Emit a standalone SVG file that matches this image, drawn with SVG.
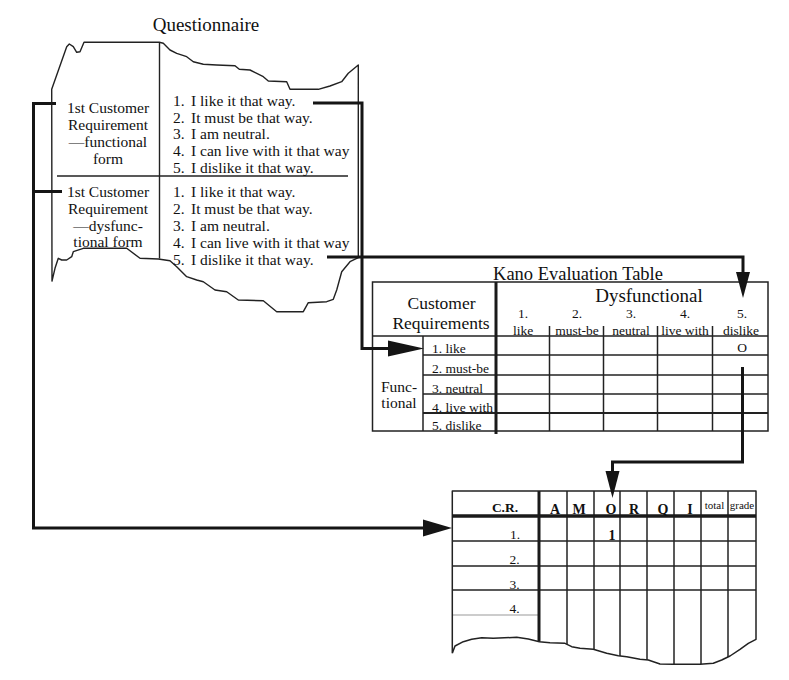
<svg xmlns="http://www.w3.org/2000/svg" width="789" height="680" viewBox="0 0 789 680">
  <style>
    text { font-family: "Liberation Serif", "Times New Roman", serif; fill: #111; }
    .title { font-size: 19px; }
    .q { font-size: 15.5px; }
    .mid { text-anchor: middle; }
    .hdr { font-size: 17.5px; }
    .sm { font-size: 13.5px; }
    .row { font-size: 13.5px; }
    .bold { font-weight: bold; }
    .edge { fill: none; stroke: #222; stroke-width: 1.4; stroke-linejoin: round; }
    .grid { fill: none; stroke: #222; stroke-width: 1.5; }
    .heavy { fill: none; stroke: #1a1a1a; stroke-width: 3; }
    .wire { fill: none; stroke: #151515; stroke-width: 3; stroke-linejoin: miter; }
    .head { fill: #151515; stroke: none; }
  </style>
  <defs>
    <clipPath id="summaryClip">
      <path d="M452,491 H756 V639.3 L748.3,643.3 L740,649.3 L730,656 L721.7,660 L713.3,663.3 L700,664.3 L673.3,664.3 L660,664 L648.3,660 L640,659.3 L626.7,656.7 L618.3,655.7 L606.7,653.3 L593.3,649.3 L580,648.3 L571.7,646.7 L565,643.3 L550,642.7 L539.3,641.7 L528.3,639 L516.7,637.3 L493.3,638.3 L481.7,637.7 L471.7,639.3 L463.3,641.7 L455,646 L452.3,653.3 Z"/>
    </clipPath>
  </defs>

  <!-- Questionnaire sheet -->
  <g id="questionnaire">
    <text class="title mid" x="206" y="31">Questionnaire</text>
    <path class="edge" d="M52,281 L51.7,89.3 L66.7,46.7 L69.3,44 L73.3,46.7 L76.7,52.3 L80,51.7 L84,42.3 L159.3,42.3 L163.3,43.3 L170,50 L176.7,53.3 L186.7,56.7 L193.3,61.7 L203.3,64.3 L216.7,65 L235,65.7 L239.3,69.3 L250,70 L263.3,76.7 L268.3,81 L286.7,81.7 L290,89.3 L318.3,89.3 L330,86 L341.7,81.7 L348.3,73.3 L358.3,65 L358.3,257.7 L350,261.7 L341.7,271.7 L336.7,290 L333.3,299.3 L326.7,301.7 L308.3,302.7 L303.3,311.7 L276.7,311.7 L263.3,300.7 L238.3,300 L226.7,291.7 L215,290 L203.3,281.7 L196.7,280 L186.7,276.7 L176.7,266.7 L170,260.7 L158.3,259 L140,258.3 L126.7,248.3 L83.3,248.3 L73.3,251.7 L71.7,256.7 L66.7,260 L61.7,260 L58.3,258.3 L55,268.3 Z"/>
    <line class="edge" x1="159.5" y1="42.3" x2="159.5" y2="258.5"/>
    <line class="edge" x1="57" y1="176" x2="348" y2="176"/>

    <text class="q mid" x="108" y="113">1st Customer</text>
    <text class="q mid" x="108" y="130">Requirement</text>
    <text class="q mid" x="108" y="147">—functional</text>
    <text class="q mid" x="108" y="164">form</text>

    <text class="q mid" x="108" y="197">1st Customer</text>
    <text class="q mid" x="108" y="214">Requirement</text>
    <text class="q mid" x="108" y="231">—dysfunc-</text>
    <text class="q mid" x="108" y="247">tional form</text>

    <text class="q"><tspan x="173" y="106">1.</tspan><tspan x="191" y="106">I like it that way.</tspan></text>
    <text class="q"><tspan x="173" y="122.5">2.</tspan><tspan x="191" y="122.5">It must be that way.</tspan></text>
    <text class="q"><tspan x="173" y="139">3.</tspan><tspan x="191" y="139">I am neutral.</tspan></text>
    <text class="q"><tspan x="173" y="156">4.</tspan><tspan x="191" y="156">I can live with it that way</tspan></text>
    <text class="q"><tspan x="173" y="172.5">5.</tspan><tspan x="191" y="172.5">I dislike it that way.</tspan></text>

    <text class="q"><tspan x="173" y="197">1.</tspan><tspan x="191" y="197">I like it that way.</tspan></text>
    <text class="q"><tspan x="173" y="214">2.</tspan><tspan x="191" y="214">It must be that way.</tspan></text>
    <text class="q"><tspan x="173" y="231">3.</tspan><tspan x="191" y="231">I am neutral.</tspan></text>
    <text class="q"><tspan x="173" y="248">4.</tspan><tspan x="191" y="248">I can live with it that way</tspan></text>
    <text class="q"><tspan x="173" y="265">5.</tspan><tspan x="191" y="265">I dislike it that way.</tspan></text>
  </g>

  <!-- Kano evaluation table -->
  <g id="kano-table">
    <text class="mid" style="font-size:18.5px" x="578" y="280">Kano Evaluation Table</text>
    <rect class="grid" x="372.5" y="282" width="395.5" height="149"/>
    <line class="grid" x1="372.5" y1="336" x2="768" y2="336"/>
    <line class="grid" x1="423" y1="355" x2="768" y2="355"/>
    <line class="grid" x1="423" y1="375" x2="768" y2="375"/>
    <line class="grid" x1="423" y1="394" x2="768" y2="394"/>
    <line class="grid" x1="423" y1="413" x2="768" y2="413" style="stroke-width:2"/>
    <line class="grid" x1="423" y1="336" x2="423" y2="431"/>
    <line class="grid" x1="549.5" y1="326" x2="549.5" y2="431"/>
    <line class="grid" x1="603.5" y1="326" x2="603.5" y2="431"/>
    <line class="grid" x1="657.5" y1="326" x2="657.5" y2="431"/>
    <line class="grid" x1="712.5" y1="326" x2="712.5" y2="431"/>
    <line class="heavy" x1="496" y1="282" x2="496" y2="434"/>

    <text class="hdr mid" x="441.5" y="309">Customer</text>
    <text class="hdr mid" x="441" y="328.5">Requirements</text>
    <text class="mid" style="font-size:19px" x="649" y="302">Dysfunctional</text>

    <text class="sm mid" x="523" y="318">1.</text>
    <text class="sm mid" x="577" y="318">2.</text>
    <text class="sm mid" x="631" y="318">3.</text>
    <text class="sm mid" x="685" y="318">4.</text>
    <text class="sm mid" x="742" y="318">5.</text>
    <text class="sm mid" x="523" y="335">like</text>
    <text class="sm mid" x="577" y="335">must-be</text>
    <text class="sm mid" x="631" y="335">neutral</text>
    <text class="sm mid" x="685" y="335">live with</text>
    <text class="sm mid" x="741" y="335">dislike</text>

    <text class="row" x="432" y="353">1. like</text>
    <text class="row" x="432" y="373">2. must-be</text>
    <text class="row" x="432" y="392.5">3. neutral</text>
    <text class="row" x="432" y="411.5">4. live with</text>
    <text class="row" x="432" y="430">5. dislike</text>

    <text class="q mid" x="399" y="392">Func-</text>
    <text class="q mid" x="399" y="408">tional</text>

    <text class="sm mid" x="742" y="352">O</text>
  </g>

  <!-- Tally table -->
  <g id="summary-table">
    <g clip-path="url(#summaryClip)">
      <line class="grid" x1="452" y1="541" x2="756" y2="541"/>
      <line class="grid" x1="452" y1="566" x2="756" y2="566"/>
      <line class="grid" x1="452" y1="590" x2="756" y2="590"/>
      <line x1="452" y1="615" x2="539" y2="615" style="stroke:#999;stroke-width:1"/>
      <line class="grid" x1="567" y1="491" x2="567" y2="680"/>
      <line class="grid" x1="594" y1="491" x2="594" y2="680"/>
      <line class="grid" x1="620" y1="491" x2="620" y2="680"/>
      <line class="grid" x1="647" y1="491" x2="647" y2="680"/>
      <line class="grid" x1="674" y1="491" x2="674" y2="680"/>
      <line class="grid" x1="701" y1="491" x2="701" y2="680"/>
      <line class="grid" x1="728" y1="491" x2="728" y2="680"/>
      <line class="heavy" x1="539" y1="491" x2="539" y2="680"/>
    </g>
    <path class="edge" style="stroke-width:1.5" d="M452.3,653.3 V491 H756 V639.3 L748.3,643.3 L740,649.3 L730,656 L721.7,660 L713.3,663.3 L700,664.3 L673.3,664.3 L660,664 L648.3,660 L640,659.3 L626.7,656.7 L618.3,655.7 L606.7,653.3 L593.3,649.3 L580,648.3 L571.7,646.7 L565,643.3 L550,642.7 L539.3,641.7 L528.3,639 L516.7,637.3 L493.3,638.3 L481.7,637.7 L471.7,639.3 L463.3,641.7 L455,646 L452.3,653.3"/>
    <line class="heavy" x1="452" y1="516" x2="756" y2="516" style="stroke-width:3.5"/>

    <text class="bold mid" style="font-size:13.5px" x="505" y="512">C.R.</text>
    <text class="bold mid" style="font-size:14px" x="555" y="514">A</text>
    <text class="bold mid" style="font-size:14px" x="579" y="514">M</text>
    <text class="bold mid" style="font-size:14px" x="611" y="514">O</text>
    <text class="bold mid" style="font-size:14px" x="634" y="514">R</text>
    <text class="bold mid" style="font-size:14px" x="663" y="514">Q</text>
    <text class="bold mid" style="font-size:14px" x="690" y="514">I</text>
    <text class="mid" style="font-size:11px" x="714.5" y="509">total</text>
    <text class="mid" style="font-size:11px" x="742" y="509">grade</text>

    <text class="sm" x="510" y="539">1.</text>
    <text class="sm" x="509.5" y="564">2.</text>
    <text class="sm" x="509.5" y="588.5">3.</text>
    <text class="sm" x="509.5" y="612.5">4.</text>
    <text class="bold mid" style="font-size:14px" x="612" y="540">1</text>
  </g>

  <!-- Connectors -->
  <g id="connectors">
    <path class="wire" d="M56,103.5 H33.5 V528 H426"/>
    <path class="wire" d="M33.5,191.5 H62"/>
    <polygon class="head" points="423,519.5 452,528 423,536.5"/>

    <path class="wire" d="M313,103 H362 V348.5 H390"/>
    <polygon class="head" points="388,340.5 424,348.5 388,356.5"/>

    <path class="wire" d="M327,257 H743 V274"/>
    <polygon class="head" points="736,272 750,272 743,298"/>

    <path class="wire" d="M742.5,367 V462 H612.5 V473"/>
    <polygon class="head" points="605.5,471 619.5,471 612.5,498"/>
  </g>
</svg>
